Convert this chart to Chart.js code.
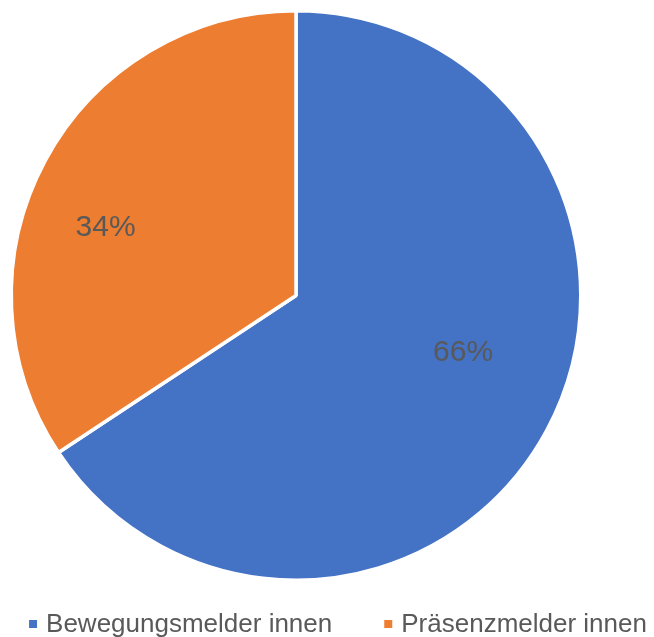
<!DOCTYPE html>
<html>
<head>
<meta charset="utf-8">
<script src="https://cdn.jsdelivr.net/npm/chart.js@4/dist/chart.umd.min.js"></script>
<style>
  html, body { margin: 0; padding: 0; background: #ffffff; }
  #wrap { width: 654px; height: 637px; position: relative; }
</style>
</head>
<body>
<div id="wrap"><canvas id="c" width="654" height="637"></canvas></div>
<script>
const categories = ['Bewegungsmelder innen', 'Präsenzmelder innen'];
const values = [65.7, 34.3];
const colors = ['#4472C4', '#ED7D31'];
// label placement within each slice: fraction along the slice's angle, fraction of radius
const labelAngleFrac = [0.46, 0.43];
const labelRadiusFrac = [0.62, 0.71];

const FONT = '"Liberation Sans", Arial, sans-serif';

const pctLabels = {
  id: 'pctLabels',
  afterDatasetsDraw(chart) {
    const ctx = chart.ctx;
    const meta = chart.getDatasetMeta(0);
    const data = chart.data.datasets[0].data;
    const total = data.reduce((a, b) => a + b, 0);
    ctx.save();
    ctx.font = '30px ' + FONT;
    ctx.fillStyle = '#595959';
    ctx.textAlign = 'center';
    ctx.textBaseline = 'middle';
    meta.data.forEach((arc, i) => {
      const p = arc.getProps(['x', 'y', 'startAngle', 'endAngle', 'outerRadius'], true);
      const a = p.startAngle + (p.endAngle - p.startAngle) * labelAngleFrac[i];
      const r = p.outerRadius * labelRadiusFrac[i];
      const txt = Math.round(data[i] / total * 100) + '%';
      ctx.fillText(txt, p.x + Math.cos(a) * r, p.y + Math.sin(a) * r);
    });
    ctx.restore();
  }
};

const bottomLegend = {
  id: 'bottomLegend',
  afterDraw(chart) {
    const ctx = chart.ctx;
    const labels = chart.data.labels;
    const bg = chart.data.datasets[0].backgroundColor;
    const box = 8, gap = 9, spacing = 52, cx = 338, cy = 624;
    ctx.save();
    ctx.font = '26px ' + FONT;
    const widths = labels.map(l => ctx.measureText(l).width);
    const total = widths.reduce((s, w) => s + box + gap + w, 0) + spacing * (labels.length - 1);
    let x = cx - total / 2;
    ctx.textBaseline = 'middle';
    ctx.textAlign = 'left';
    labels.forEach((l, i) => {
      ctx.fillStyle = bg[i];
      ctx.fillRect(x, cy - box / 2, box, box);
      ctx.fillStyle = '#595959';
      ctx.fillText(l, x + box + gap, cy + 1);
      x += box + gap + widths[i] + spacing;
    });
    ctx.restore();
  }
};

new Chart(document.getElementById('c'), {
  type: 'pie',
  data: {
    labels: categories,
    datasets: [{
      data: values,
      backgroundColor: colors,
      borderColor: '#ffffff',
      borderWidth: 3.5
    }]
  },
  options: {
    responsive: false,
    animation: false,
    layout: { padding: { top: 9, left: 9.5, right: 71.5, bottom: 55 } },
    plugins: {
      legend: { display: false },
      tooltip: { enabled: false }
    }
  },
  plugins: [pctLabels, bottomLegend]
});
</script>
</body>
</html>
